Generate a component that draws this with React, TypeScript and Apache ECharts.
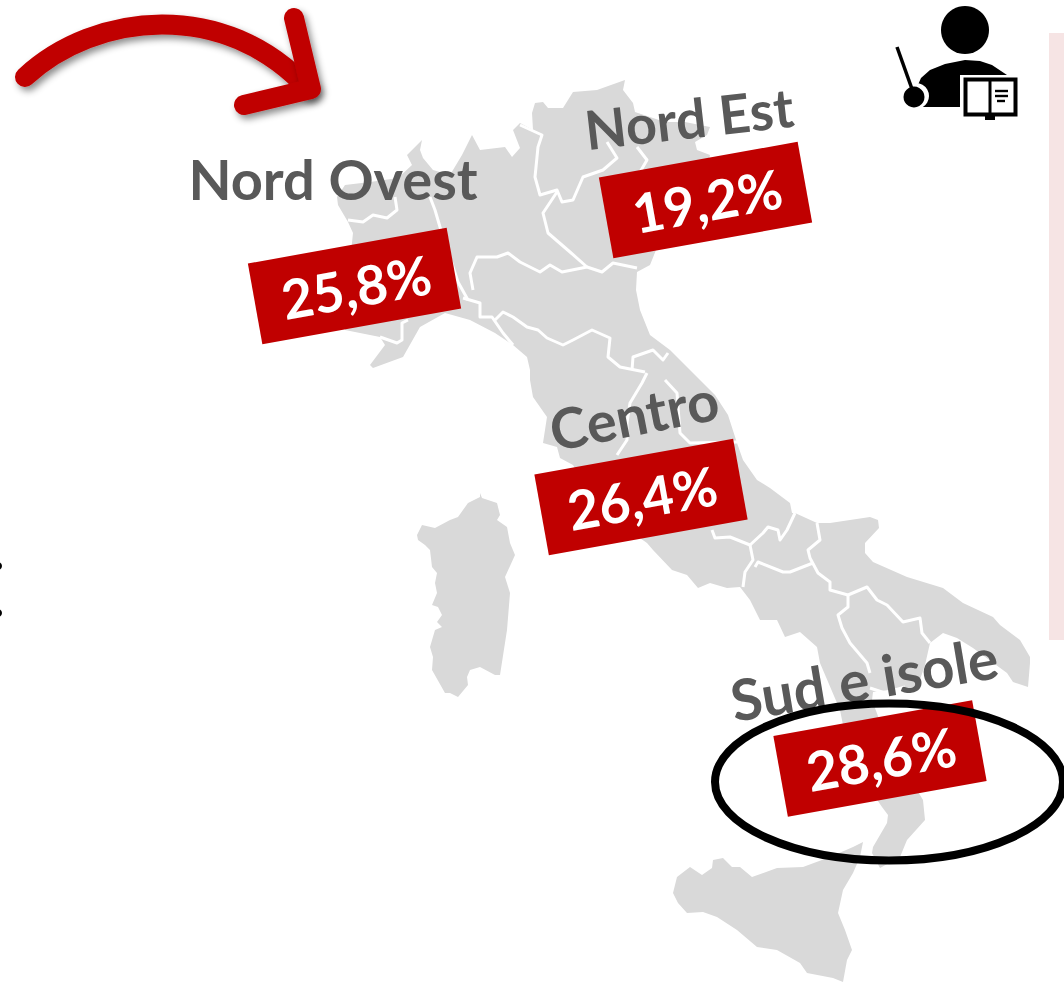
import React, { useEffect, useRef } from "react";
import * as echarts from "echarts";

const areaNames = ["Nord Ovest", "Nord Est", "Centro", "Sud e isole"];
const areaShares = [25.8, 19.2, 26.4, 28.6];

const GREY = "#d9d9d9";
const RED = "#c00000";
const TEXT = "#595959";
const FONT = "Lato, 'Noto Sans', sans-serif";

const labelLayout = [
  { nx: 333, ny: 178, nr: 0, ns: 56, bx: 354.5, by: 286, tx: 356, ty: 286 },
  { nx: 689, ny: 118, nr: -6.5, ns: 54, bx: 705.5, by: 200, tx: 707, ty: 200 },
  { nx: 634, ny: 414, nr: -11, ns: 56, bx: 641, by: 497, tx: 642, ty: 497 },
  { nx: 864, ny: 678, nr: -9.5, ns: 57, bx: 880, by: 758.5, tx: 881, ty: 758 },
];

const mainland = [
  [337,197],[338,205],[348,222],[353,233],[350,262],[345,330],[380,337],[385,345],[370,365],[373,368],[403,357],[420,327],[445,313],
  [470,320],[495,333],[513,345],[527,357],[530,370],[530,380],[533,397],[547,417],[543,443],[557,447],[560,458],[573,465],[600,510],[647,543],
  [653,550],[672,570],[687,575],[698,588],[710,583],[727,588],[740,587],[750,600],[760,620],[777,620],[785,637],[800,632],[817,647],[820,663],
  [840,710],[850,760],[882,807],[888,815],[887,823],[873,847],[872,853],[880,868],[900,857],[907,840],[925,820],[923,800],[905,770],[885,735],[872,700],[873,692],
  [905,688],[917,688],[925,665],[930,643],[943,633],[957,638],[973,648],[1007,673],[1013,682],[1028,687],[1030,663],[1030,657],[1020,640],[1000,625],[993,617],
  [963,603],[943,588],[907,577],[873,562],[865,553],[865,543],[879,528],[878,520],[870,517],[830,523],[817,523],[795,513],[792,513],[790,503],[770,488],
  [757,480],[743,460],[737,443],[728,415],[715,395],[695,375],[670,350],[650,335],[640,310],[636,290],[637,272],[650,265],[660,240],[700,200],[710,155],[697,150],[695,142],[707,135],[710,127],
  [685,122],[665,122],[650,117],[635,112],[633,103],[623,90],[625,80],[597,90],[573,92],[563,108],[548,108],[543,102],[535,103],[532,113],[533,130],[520,123],
  [513,130],[520,148],[512,157],[505,147],[480,150],[472,135],[462,155],[450,175],[433,170],[423,158],[420,150],[422,140],[407,155],[412,165],[398,178],[370,182],[345,185],
];
const sardinia = [
  [480,493],[482,498],[497,503],[500,515],[497,520],[507,527],[510,543],[515,555],[505,577],[510,593],[507,630],[500,675],[495,675],[480,667],[470,670],[467,677],[468,685],
  [458,697],[450,693],[445,693],[432,670],[433,657],[430,647],[435,630],[442,627],[437,622],[442,615],[438,607],[432,605],[437,593],[435,583],[437,573],[432,567],[430,550],[425,545],
  [418,540],[417,535],[422,525],[435,528],[450,520],[458,517],[468,503],[480,497],
];
const sicily = [
  [673,893],[677,877],[690,867],[702,875],[712,868],[713,860],[723,858],[732,867],[740,867],[752,877],[777,868],[803,867],[830,857],[853,847],[863,842],[860,857],[853,873],[843,890],
  [838,913],[845,930],[852,950],[847,960],[843,982],[833,978],[807,973],[800,963],[777,950],[757,947],[737,930],[717,917],[703,912],[687,913],[678,903],
];
const borders = [
  [[348,220],[363,222],[373,215],[387,218],[397,210],[395,197]],
  [[430,197],[435,210],[440,227],[458,282],[468,300]],
  [[463,298],[480,303],[480,317],[492,317],[503,333],[513,345]],
  [[380,337],[397,343],[402,340],[402,323],[408,320]],
  [[473,290],[470,273],[477,257],[497,257],[508,253],[520,262],[540,272],[550,265],[562,272],[587,267],[602,272],[613,263],[637,268]],
  [[557,192],[543,213],[548,233],[570,252],[587,267]],
  [[520,125],[542,135],[538,147],[535,177],[540,195],[557,190],[562,202],[573,200],[583,177],[603,170],[617,158],[607,142]],
  [[637,147],[647,160],[640,172]],
  [[495,320],[503,312],[513,317],[527,327],[538,330],[547,338],[563,345],[573,340],[592,330],[610,338],[608,357],[620,367],[645,372]],
  [[632,370],[633,357],[653,350],[663,360],[668,353]],
  [[647,373],[642,383],[630,403],[627,423],[627,440],[617,455]],
  [[665,380],[677,393],[680,433],[690,443],[737,442]],
  [[712,530],[715,538],[730,537],[750,545],[753,560],[745,572],[743,587]],
  [[750,545],[763,533],[768,527],[778,530],[780,540],[787,530],[795,513]],
  [[755,567],[758,562],[783,572],[790,572],[813,563]],
  [[817,523],[820,540],[808,550],[810,558],[818,573],[830,582],[830,590],[848,595],[867,587],[877,600],[887,605],[903,622],[920,618],[922,633],[930,643]],
  [[848,595],[848,607],[838,615],[842,628],[850,643],[867,663],[870,673]],
  [[870,688],[885,693],[905,687]],
];

const shadow = { shadowBlur: 7, shadowColor: "rgba(0,0,0,0.45)", shadowOffsetX: 3, shadowOffsetY: 4 };
const arrowStyle = { fill: "none", stroke: RED, lineWidth: 20, lineCap: "round", lineJoin: "round", ...shadow };

const formatShare = (v: number) => v.toFixed(1).replace(".", ",") + "%";

function buildGraphics() {
  const els: any[] = [];
  [mainland, sardinia, sicily].forEach((p) =>
    els.push({ type: "polygon", shape: { points: p }, style: { fill: GREY }, silent: true })
  );
  borders.forEach((p) =>
    els.push({ type: "polyline", shape: { points: p }, style: { fill: "none", stroke: "#fff", lineWidth: 3, lineJoin: "round" }, silent: true })
  );
  // arrow
  els.push({ type: "bezierCurve", shape: { x1: 25, y1: 77, cpx1: 95, cpy1: 12, cpx2: 225, cpy2: -2, x2: 308, y2: 89 }, style: arrowStyle, silent: true });
  els.push({ type: "polyline", shape: { points: [[294, 18], [311, 89], [244, 105]] }, style: arrowStyle, silent: true });
  // labels
  areaNames.forEach((name, i) => {
    const l = labelLayout[i];
    els.push({
      type: "text", x: l.nx, y: l.ny, rotation: (-l.nr * Math.PI) / 180, silent: true,
      style: { text: name, fill: TEXT, font: `bold ${l.ns}px ${FONT}`, align: "center", verticalAlign: "middle" },
    });
    els.push({
      type: "rect", x: l.bx, y: l.by, rotation: 0.178, silent: true,
      shape: { x: -101, y: -41, width: 202, height: 82 }, style: { fill: RED },
    });
    els.push({
      type: "text", x: l.tx, y: l.ty, rotation: 0.178, silent: true,
      style: { text: formatShare(areaShares[i]), fill: "#fff", font: `bold 54px ${FONT}`, align: "center", verticalAlign: "middle" },
    });
  });
  // ellipse highlight
  els.push({ type: "ellipse", shape: { cx: 889, cy: 782, rx: 174, ry: 78.5 }, style: { fill: "none", stroke: "#000", lineWidth: 8 }, silent: true });
  // right panel and left stray marks
  els.push({ type: "rect", shape: { x: 1049, y: 33, width: 15, height: 607 }, style: { fill: "#f6e4e4" }, silent: true });
  els.push({ type: "circle", shape: { cx: -2, cy: 566, r: 4 }, style: { fill: "#000" }, silent: true });
  els.push({ type: "circle", shape: { cx: -2, cy: 613, r: 4 }, style: { fill: "#000" }, silent: true });
  // teacher icon
  els.push({ type: "circle", shape: { cx: 965, cy: 30, r: 24 }, style: { fill: "#000" }, silent: true });
  els.push({ type: "polygon", shape: { points: [[917,87],[921,78],[930,70],[945,64],[965,60],[980,61],[992,65],[1007,75],[960,75],[960,107],[920,107]] }, style: { fill: "#000" }, silent: true });
  els.push({ type: "circle", shape: { cx: 916, cy: 96, r: 13 }, style: { fill: "#fff" }, silent: true });
  els.push({ type: "circle", shape: { cx: 914, cy: 97, r: 10.5 }, style: { fill: "#000" }, silent: true });
  els.push({ type: "line", shape: { x1: 897, y1: 47, x2: 912, y2: 89 }, style: { stroke: "#000", lineWidth: 3.5 }, silent: true });
  els.push({ type: "rect", shape: { x: 961, y: 75, width: 58, height: 44 }, style: { fill: "#fff" }, silent: true });
  els.push({ type: "rect", shape: { x: 965.5, y: 79.5, width: 50, height: 35 }, style: { fill: "#fff", stroke: "#000", lineWidth: 4 }, silent: true });
  els.push({ type: "line", shape: { x1: 990, y1: 79, x2: 990, y2: 115 }, style: { stroke: "#000", lineWidth: 3 }, silent: true });
  els.push({ type: "rect", shape: { x: 985, y: 116, width: 10, height: 4 }, style: { fill: "#000" }, silent: true });
  [[995, 1008, 91], [995, 1008, 96], [997, 1005, 101]].forEach(([a, b, y]) =>
    els.push({ type: "line", shape: { x1: a, y1: y, x2: b, y2: y }, style: { stroke: "#000", lineWidth: 2.4 }, silent: true })
  );
  return els;
}

export default function App() {
  const ref = useRef<HTMLDivElement>(null);
  useEffect(() => {
    const chart = echarts.init(ref.current!, null, { renderer: "svg" });
    chart.setOption({ animation: false, backgroundColor: "#fff", graphic: { elements: buildGraphics() } });
    return () => chart.dispose();
  }, []);
  return <div ref={ref} style={{ position: "absolute", left: 0, top: 0, width: 1064, height: 982 }} />;
}
